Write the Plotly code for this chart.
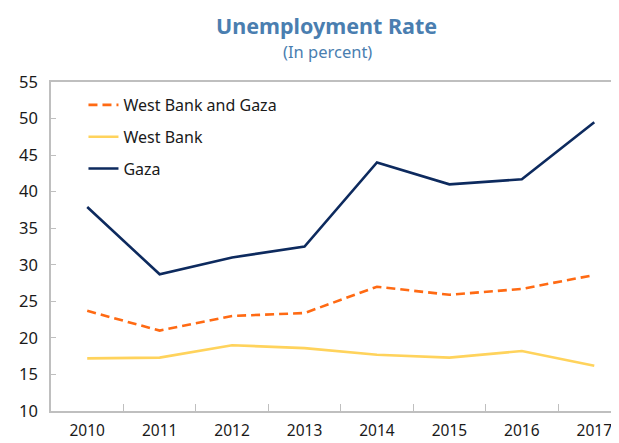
import plotly.graph_objects as go

years = ["2010", "2011", "2012", "2013", "2014", "2015", "2016", "2017"]
wbg = [23.7, 21.0, 23.0, 23.4, 27.0, 25.9, 26.7, 28.6]
wb = [17.2, 17.3, 19.0, 18.6, 17.7, 17.3, 18.2, 16.2]
gaza = [37.9, 28.7, 31.0, 32.5, 44.0, 41.0, 41.7, 49.5]
y_ticks = [10, 15, 20, 25, 30, 35, 40, 45, 50, 55]

FONT = "Noto Sans"
OFF = 8  # page body margin offset
W, H = 619 - OFF, 443 - OFF
L, R, T, B = 50.5 - OFF, 0, 82 - OFF, 443 - 411
PH = H - T - B

fig = go.Figure()
fig.add_trace(go.Scatter(x=years, y=wbg, name="West Bank and Gaza", mode="lines",
                         line=dict(color="#FF6A13", width=2.6, dash="9px,5px"),
                         legendgroup="a"))
fig.add_trace(go.Scatter(x=years, y=wb, name="West Bank", mode="lines",
                         line=dict(color="#FFD35C", width=2.6), legendgroup="b"))
fig.add_trace(go.Scatter(x=years, y=gaza, name="Gaza", mode="lines",
                         line=dict(color="#0D2A5E", width=2.6), legendgroup="c"))

pw = W - L - R
cat_w = 72.5
x_end = -0.5 + pw / cat_w


def px_x(sx):
    return (sx - OFF - L) / pw


def px_y(sy):
    return 1 - (sy - OFF - T) / PH


fig.update_layout(
    width=W, height=H,
    margin=dict(l=L, r=R, t=T, b=B, pad=0, autoexpand=False),
    paper_bgcolor="white", plot_bgcolor="white",
    font=dict(family=FONT, size=16, color="#1a1a1a"),
    showlegend=True,
    legend=dict(x=px_x(83), y=px_y(88), xanchor="left", yanchor="top",
                bgcolor="rgba(0,0,0,0)", borderwidth=0,
                font=dict(family=FONT, size=16, color="#1a1a1a"),
                traceorder="grouped", tracegroupgap=8, itemwidth=30),
    xaxis=dict(type="category", range=[-0.5, x_end], showgrid=False, automargin=False,
               showline=True, linecolor="#BFBFBF", linewidth=1.5, mirror=True,
               ticks="inside", tickson="boundaries", ticklen=7, tickcolor="#BFBFBF",
               tickwidth=1, tickfont=dict(family=FONT, size=15.5, color="#1a1a1a"),
               ticklabelstandoff=5, fixedrange=True),
    yaxis=dict(range=[10, 55], tickvals=y_ticks, showgrid=False, zeroline=False,
               automargin=False,
               showline=True, linecolor="#BFBFBF", linewidth=1.5,
               ticks="inside", ticklen=5, tickcolor="#BFBFBF", tickwidth=1,
               tickfont=dict(family=FONT, size=16.5, color="#1a1a1a"),
               ticklabelstandoff=8),
    annotations=[
        dict(text="<b>Unemployment Rate</b>", xref="paper", yref="paper",
             x=px_x(326), y=px_y(26), xanchor="center", yanchor="middle",
             showarrow=False, font=dict(family=FONT, size=21.5, color="#4A7EB0")),
        dict(text="(In percent)", xref="paper", yref="paper",
             x=px_x(327), y=px_y(51), xanchor="center", yanchor="middle",
             showarrow=False, font=dict(family=FONT, size=16.5, color="#4A7EB0")),
    ],
)

fig.write_html("out.html")
